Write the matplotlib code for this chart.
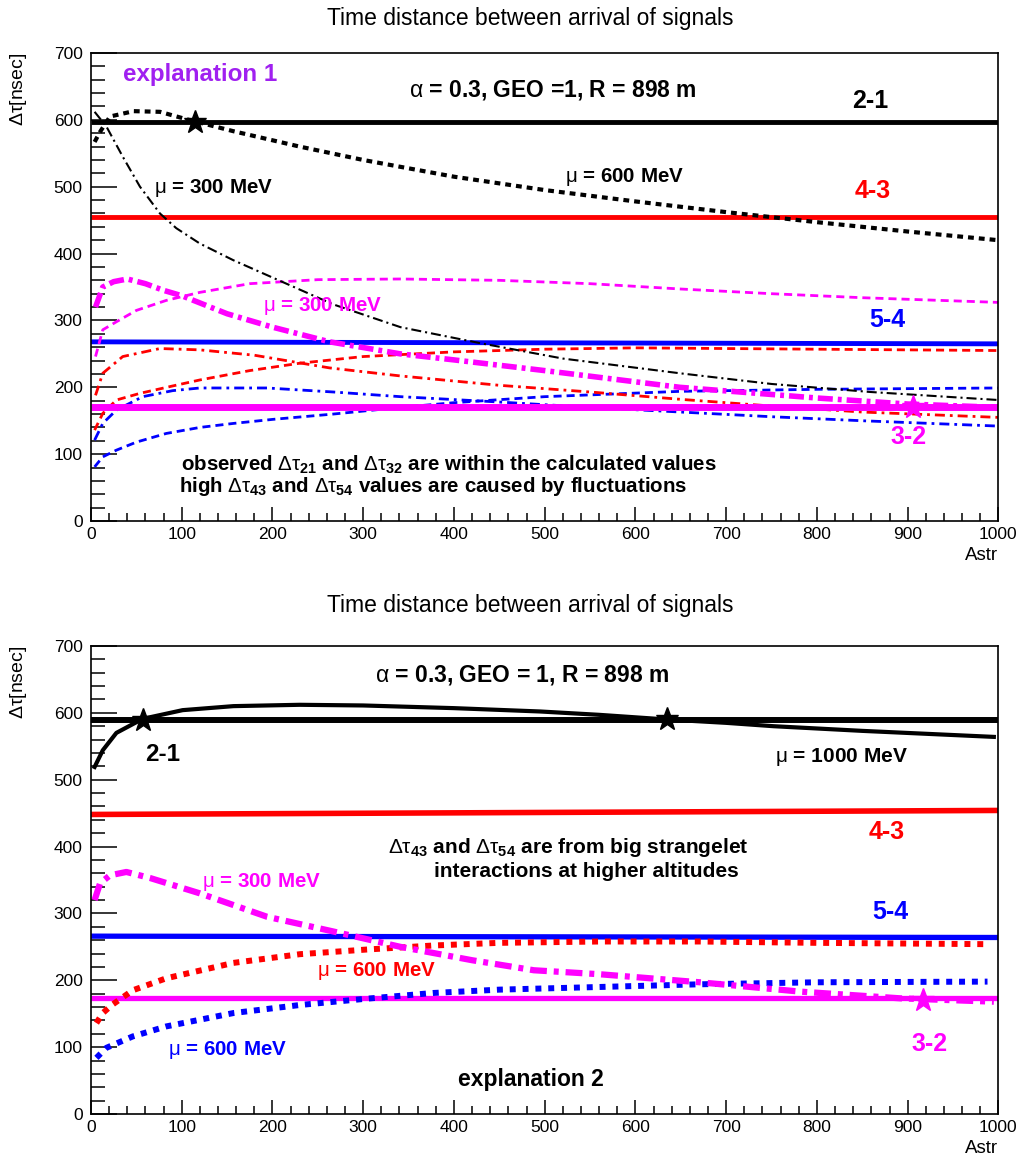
import matplotlib
matplotlib.use('Agg')
import matplotlib.pyplot as plt
from matplotlib.ticker import MultipleLocator

plt.rcParams['font.family'] = ['Liberation Sans', 'DejaVu Sans']
plt.rcParams['mathtext.fontset'] = 'custom'
plt.rcParams['mathtext.rm'] = 'Liberation Sans'
plt.rcParams['mathtext.it'] = 'Liberation Sans'
plt.rcParams['mathtext.bf'] = 'Liberation Sans:bold'

# ---- top panel data (explanation 1) ----
x_h = [0, 1000]
top_21 = [597, 597]
top_43 = [455, 455]
top_54 = [268, 265]
top_32 = [171, 171]

top_blk600_x = [4, 10, 21, 47, 76, 105, 157, 230, 300, 400, 500, 600, 700, 800, 900, 1000]
top_blk600_y = [567, 582, 605, 613, 612, 601, 583, 560, 540, 515, 495, 478, 462, 447, 433, 420]

top_blk300_x = [4, 17, 35, 54, 76, 94, 120, 157, 212, 267, 341, 429, 520, 649, 750, 859, 1000]
top_blk300_y = [612, 590, 545, 500, 460, 438, 415, 390, 357, 324, 290, 266, 243, 221, 205, 193, 181]

top_mag300_x = [5, 13, 25, 40, 60, 80, 100, 150, 200, 263, 341, 400, 500, 649, 800, 900, 1000]
top_mag300_y = [320, 350, 358, 362, 355, 345, 337, 310, 290, 268, 250, 241, 225, 200, 184, 175, 170]

top_mag600_x = [5, 13, 28, 50, 83, 120, 175, 250, 341, 450, 550, 650, 750, 850, 1000]
top_mag600_y = [246, 286, 298, 315, 330, 342, 355, 361, 362, 360, 355, 347, 340, 334, 327]

top_red300_x = [5, 13, 35, 76, 120, 180, 263, 341, 450, 550, 650, 750, 850, 1000]
top_red300_y = [188, 221, 246, 258, 256, 248, 229, 217, 203, 193, 182, 172, 163, 155]

top_red600_x = [4, 13, 28, 54, 90, 120, 175, 230, 300, 400, 500, 600, 700, 800, 900, 1000]
top_red600_y = [136, 161, 181, 191, 202, 211, 225, 236, 246, 253, 257, 259, 258, 257, 256, 255]

top_blu300_x = [4, 13, 28, 57, 90, 120, 194, 267, 341, 450, 550, 650, 750, 850, 1000]
top_blu300_y = [121, 146, 166, 186, 195, 199, 199, 193, 186, 178, 170, 163, 156, 150, 142]

top_blu600_x = [4, 13, 28, 50, 83, 120, 157, 200, 267, 341, 400, 500, 650, 800, 1000]
top_blu600_y = [81, 96, 106, 118, 131, 140, 146, 152, 160, 170, 177, 186, 194, 197, 199]

top_star_blk = ([115], [597])
top_star_mag = ([906], [170])

# ---- bottom panel data (explanation 2) ----
bot_21 = [590, 590]
bot_43 = [448, 454]
bot_54 = [266, 264]
bot_32 = [173, 173]

bot_blk1000_x = [4, 13, 28, 57, 101, 157, 230, 300, 400, 495, 560, 635, 700, 752, 850, 995]
bot_blk1000_y = [519, 544, 570, 591, 604, 610, 612, 611, 607, 602, 597, 590, 585, 580, 573, 564]

bot_mag300_x = [4, 10, 21, 39, 65, 120, 194, 267, 341, 420, 488, 561, 671, 782, 892, 995]
bot_mag300_y = [320, 345, 357, 362, 353, 330, 295, 273, 250, 230, 215, 209, 197, 183, 173, 168]

bot_red600_x = [6, 13, 23, 46, 83, 157, 230, 304, 377, 450, 561, 671, 800, 988]
bot_red600_y = [136, 151, 163, 185, 203, 226, 239, 246, 252, 256, 258, 258, 256, 254]

bot_blu600_x = [6, 17, 46, 83, 157, 230, 300, 377, 450, 561, 671, 800, 988]
bot_blu600_y = [84, 99, 116, 131, 151, 163, 172, 181, 186, 190, 194, 197, 198]

bot_star_blk = ([57, 635], [589, 591])
bot_star_mag = ([917], [171])

MAG = '#ff00ff'
RED = '#ff0000'
BLU = '#0000ff'
PURPLE = '#a020f0'

fig = plt.figure(figsize=(10.28, 11.62), dpi=100)
ax1 = fig.add_axes([0.0885, 0.5516, 0.8827, 0.4028])
ax2 = fig.add_axes([0.0885, 0.0413, 0.8827, 0.4028])

for ax in (ax1, ax2):
    ax.set_xlim(0, 1000)
    ax.set_ylim(0, 700)
    ax.xaxis.set_major_locator(MultipleLocator(100))
    ax.xaxis.set_minor_locator(MultipleLocator(20))
    ax.yaxis.set_major_locator(MultipleLocator(100))
    ax.yaxis.set_minor_locator(MultipleLocator(20))
    ax.tick_params(axis='both', which='both', direction='in', width=1.1,
                   labelsize=12.5, top=False, right=False)
    ax.tick_params(axis='y', which='major', length=19, pad=6)
    ax.tick_params(axis='y', which='minor', length=10)
    ax.tick_params(axis='x', which='major', length=10, pad=4)
    ax.tick_params(axis='x', which='minor', length=5.5)
    for s in ax.spines.values():
        s.set_linewidth(1.2)
    ax.text(-0.08, 1.0, r'$\Delta\tau$[nsec]', transform=ax.transAxes,
            rotation=90, ha='center', va='top', fontsize=14)
    ax.text(1.0, -0.074, 'Astr', transform=ax.transAxes, ha='right',
            va='center', fontsize=13.5)

fig.text(0.516, 1 - 18 / 1162, 'Time distance between arrival of signals',
         ha='center', va='center', fontsize=16.5)
fig.text(0.516, 1 - 606 / 1162, 'Time distance between arrival of signals',
         ha='center', va='center', fontsize=16.5)

# ---------------- top panel ----------------
ax = ax1
ax.plot(x_h, top_21, color='black', lw=3.5, solid_capstyle='butt')
ax.plot(x_h, top_43, color=RED, lw=3.5, solid_capstyle='butt')
ax.plot(x_h, top_54, color=BLU, lw=3.5, solid_capstyle='butt')

ax.plot(top_mag600_x, top_mag600_y, color=MAG, lw=2, ls=(0, (2.9, 1.8)))
ax.plot(top_red600_x, top_red600_y, color=RED, lw=2, ls=(0, (2.9, 1.8)))
ax.plot(top_blu600_x, top_blu600_y, color=BLU, lw=2, ls=(0, (2.9, 1.8)))
ax.plot(top_red300_x, top_red300_y, color=RED, lw=2, ls=(0, (3.6, 1.8, 1, 1.8)))
ax.plot(top_blu300_x, top_blu300_y, color=BLU, lw=2, ls=(0, (3.6, 1.8, 1, 1.8)))
ax.plot(top_mag300_x, top_mag300_y, color=MAG, lw=4, ls=(0, (2.7, 0.9, 0.7, 0.9)))
ax.plot(top_blk300_x, top_blk300_y, color='black', lw=1.5, ls=(0, (4.8, 1.9, 1, 1.9)))
ax.plot(top_blk600_x, top_blk600_y, color='black', lw=3, ls=(0, (1.4, 1.2)))
ax.plot(x_h, top_32, color=MAG, lw=5, solid_capstyle='butt')

ax.plot(*top_star_blk, marker='*', color='black', ms=17, ls='none')
ax.plot(*top_star_mag, marker='*', color=MAG, ms=17, ls='none')

ax.text(35, 668, 'explanation 1', color=PURPLE, fontsize=17.4,
        fontweight='bold', ha='left', va='center')
ax.text(509, 645, r'$\alpha$ = 0.3, GEO =1, R = 898 m', fontsize=16.5,
        fontweight='bold', ha='center', va='center')
ax.text(859, 628, '2-1', fontsize=18, fontweight='bold', ha='center', va='center')
ax.text(861, 493, '4-3', color=RED, fontsize=18, fontweight='bold', ha='center', va='center')
ax.text(878, 301, '5-4', color=BLU, fontsize=18, fontweight='bold', ha='center', va='center')
ax.text(901, 126, '3-2', color=MAG, fontsize=18, fontweight='bold', ha='center', va='center')
ax.text(70, 498, r'$\mu$ = 300 MeV', fontsize=14.8, fontweight='bold', ha='left', va='center')
ax.text(522, 515, r'$\mu$ = 600 MeV', fontsize=14.8, fontweight='bold', ha='left', va='center')
ax.text(190, 321, r'$\mu$ = 300 MeV', color=MAG, fontsize=14.8, fontweight='bold',
        ha='left', va='center')
ax.text(99, 84, r'observed $\Delta\tau_{\mathbf{21}}$ and $\Delta\tau_{\mathbf{32}}$ are within the calculated values',
        fontsize=14.8, fontweight='bold', ha='left', va='center')
ax.text(97, 51, r'high $\Delta\tau_{\mathbf{43}}$ and $\Delta\tau_{\mathbf{54}}$ values are caused by fluctuations',
        fontsize=14.8, fontweight='bold', ha='left', va='center')

# ---------------- bottom panel ----------------
ax = ax2
ax.plot(x_h, bot_21, color='black', lw=4.3, solid_capstyle='butt')
ax.plot(x_h, bot_43, color=RED, lw=4, solid_capstyle='butt')
ax.plot(x_h, bot_54, color=BLU, lw=3.8, solid_capstyle='butt')
ax.plot(x_h, bot_32, color=MAG, lw=3.8, solid_capstyle='butt')

ax.plot(bot_blk1000_x, bot_blk1000_y, color='black', lw=3)
ax.plot(bot_red600_x, bot_red600_y, color=RED, lw=4.3, ls=(0, (1, 1.15)))
ax.plot(bot_blu600_x, bot_blu600_y, color=BLU, lw=4.3, ls=(0, (1, 1.15)))
ax.plot(bot_mag300_x, bot_mag300_y, color=MAG, lw=4.5, ls=(0, (2.7, 1.1, 0.8, 1.1)))

ax.plot(*bot_star_blk, marker='*', color='black', ms=17, ls='none')
ax.plot(*bot_star_mag, marker='*', color=MAG, ms=17, ls='none')

ax.text(475, 657, r'$\alpha$ = 0.3, GEO = 1, R = 898 m', fontsize=16.5,
        fontweight='bold', ha='center', va='center')
ax.text(79, 538, '2-1', fontsize=17.5, fontweight='bold', ha='center', va='center')
ax.text(754, 534, r'$\mu$ = 1000 MeV', fontsize=15, fontweight='bold', ha='left', va='center')
ax.text(877, 422, '4-3', color=RED, fontsize=18, fontweight='bold', ha='center', va='center')
ax.text(881, 302, '5-4', color=BLU, fontsize=18, fontweight='bold', ha='center', va='center')
ax.text(924, 105, '3-2', color=MAG, fontsize=18, fontweight='bold', ha='center', va='center')
ax.text(327, 399, r'$\Delta\tau_{\mathbf{43}}$ and $\Delta\tau_{\mathbf{54}}$ are from big strangelet',
        fontsize=15, fontweight='bold', ha='left', va='center')
ax.text(378, 362, 'interactions at higher altitudes', fontsize=15,
        fontweight='bold', ha='left', va='center')
ax.text(122, 347, r'$\mu$ = 300 MeV', color=MAG, fontsize=14.8, fontweight='bold',
        ha='left', va='center')
ax.text(249, 214, r'$\mu$ = 600 MeV', color=RED, fontsize=14.8, fontweight='bold',
        ha='left', va='center')
ax.text(85, 96, r'$\mu$ = 600 MeV', color=BLU, fontsize=14.8, fontweight='bold',
        ha='left', va='center')
ax.text(485, 51, 'explanation 2', fontsize=16.5, fontweight='bold',
        ha='center', va='center')

fig.savefig('out.png', dpi=100)
